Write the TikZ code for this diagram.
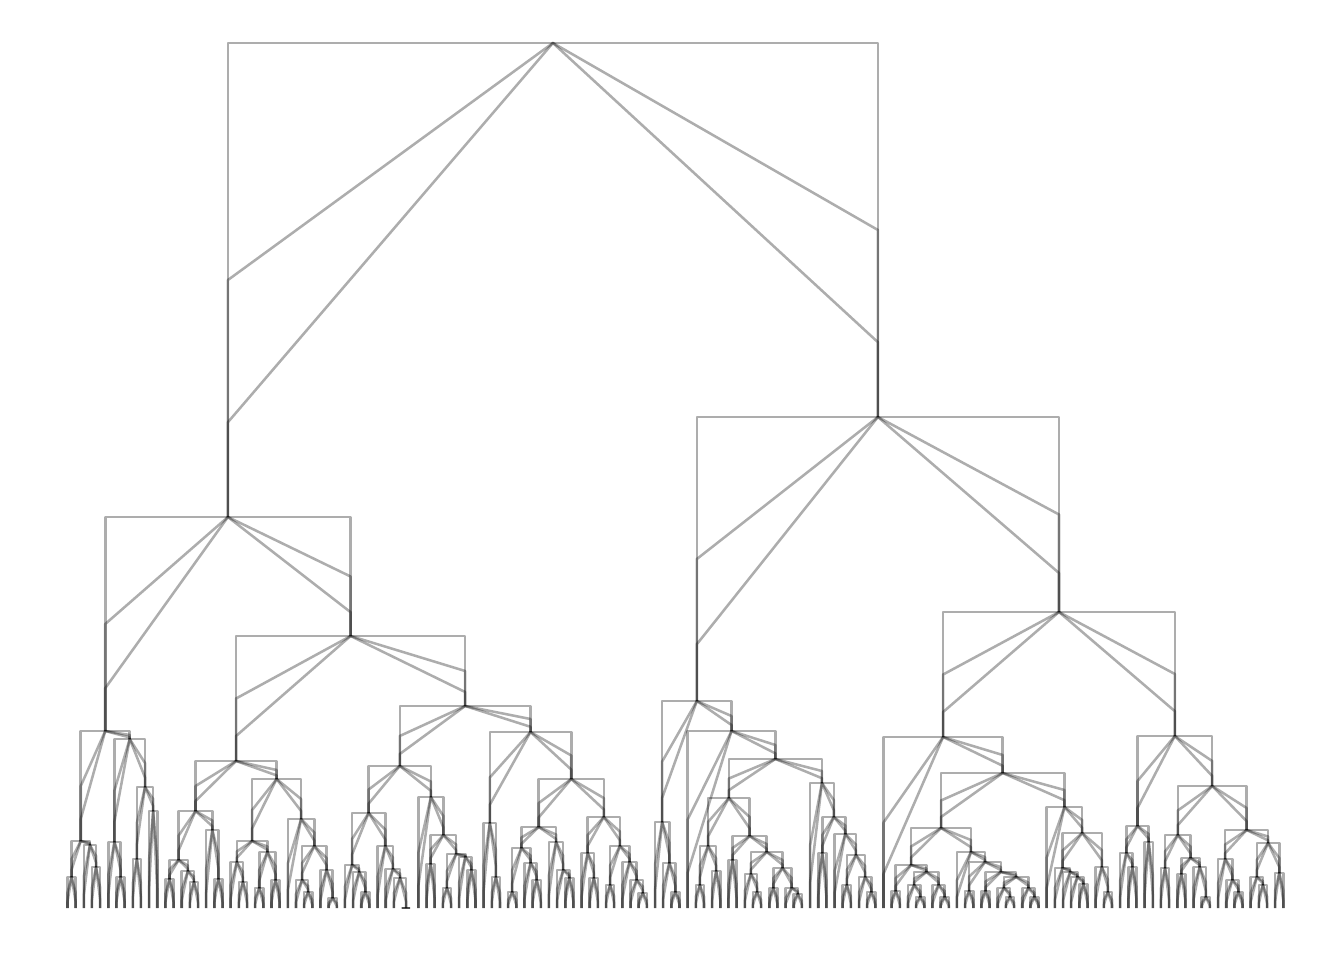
\documentclass[tikz,border=0pt]{standalone}
\usetikzlibrary{calc}
\tikzset{br/.style={draw=black, draw opacity=0.32, line width=1.9pt, line join=round}}
\newcommand\mrg[4]{%
  \path ($(#2)!0.5!(#3)$) coordinate (#1tmp);
  \coordinate (#1) at (#1tmp |- 0,#4);
  \draw[br] (#2) -- (#2 |- #1) -- (#3 |- #1) -- (#3);
  \draw[br] (#2) -- ($(#2)!0.5!(#2 |- #1)$) -- (#1) -- ($(#3)!0.5!(#3 |- #1)$) -- (#3);
  \draw[br] (#2) -- ($(#2)!0.2!(#2 |- #1)$) -- (#1) -- ($(#3)!0.2!(#3 |- #1)$) -- (#3);
}
\begin{document}
\begin{tikzpicture}[x=0.75pt,y=-0.75pt]
\useasboundingbox (0,0) rectangle (1344,960);
\foreach \i in {0,...,149} {\coordinate (l\i) at ({67.5+8.16*\i},908);}
% A1
\mrg{n1}{l0}{l1}{877}
\mrg{n2}{l3}{l4}{867}
\mrg{n3}{l2}{n2}{845}
\mrg{n4}{n1}{n3}{841}
\mrg{n5}{l6}{l7}{877}
\mrg{n6}{l5}{n5}{842}
\mrg{n7}{l8}{l9}{859}
\mrg{n8}{l10}{l11}{811}
\mrg{n9}{n7}{n8}{787}
\mrg{n10}{n6}{n9}{739}
\mrg{Aone}{n4}{n10}{731}
% A2L
\mrg{n11}{l12}{l13}{879}
\mrg{n12}{l15}{l16}{882}
\mrg{n13}{l14}{n12}{871}
\mrg{n14}{n11}{n13}{860}
\mrg{n15}{l18}{l19}{879}
\mrg{n16}{l17}{n15}{830}
\mrg{n17}{n14}{n16}{811}
\mrg{n18}{l21}{l22}{882}
\mrg{n19}{l20}{n18}{862}
\mrg{n20}{l23}{l24}{888}
\mrg{n21}{l25}{l26}{880}
\mrg{n22}{n20}{n21}{852}
\mrg{n23}{n19}{n22}{841}
\mrg{n24}{l29}{l30}{892}
\mrg{n25}{l28}{n24}{880}
\mrg{n26}{l32}{l33}{898}
\mrg{n27}{l31}{n26}{870}
\mrg{n28}{n25}{n27}{846}
\mrg{n29}{l27}{n28}{819}
\mrg{n30}{n23}{n29}{779}
\mrg{AtwoL}{n17}{n30}{761}
% A2RL
\mrg{n31}{l36}{l37}{892}
\mrg{n32}{l35}{n31}{872}
\mrg{n33}{l34}{n32}{865}
\mrg{n34}{l41}{l42}{908}
\mrg{n35}{l40}{n34}{878}
\mrg{n36}{l39}{n35}{869}
\mrg{n37}{l38}{n36}{846}
\mrg{n38}{n33}{n37}{813}
\mrg{n39}{l44}{l45}{864}
\mrg{n40}{l46}{l47}{888}
\mrg{n41}{l49}{l50}{870}
\mrg{n42}{l48}{n41}{857}
\mrg{n43}{n40}{n42}{854}
\mrg{n44}{n39}{n43}{835}
\mrg{n45}{l43}{n44}{797}
\mrg{AtwoRL}{n38}{n45}{766}
% A2RR
\mrg{n46}{l52}{l53}{877}
\mrg{n47}{l51}{n46}{823}
\mrg{n48}{l54}{l55}{892}
\mrg{n49}{l57}{l58}{880}
\mrg{n50}{l56}{n49}{863}
\mrg{n51}{n48}{n50}{848}
\mrg{n52}{l61}{l62}{878}
\mrg{n53}{l60}{n52}{870}
\mrg{n54}{l59}{n53}{842}
\mrg{n55}{n51}{n54}{827}
\mrg{n56}{l64}{l65}{878}
\mrg{n57}{l63}{n56}{853}
\mrg{n58}{l66}{l67}{885}
\mrg{n59}{l70}{l71}{893}
\mrg{n60}{l69}{n59}{880}
\mrg{n61}{l68}{n60}{862}
\mrg{n62}{n58}{n61}{846}
\mrg{n63}{n57}{n62}{817}
\mrg{n64}{n55}{n63}{779}
\mrg{AtwoRR}{n47}{n64}{732}
\mrg{AtwoR}{AtwoRL}{AtwoRR}{706}
\mrg{Atwo}{AtwoL}{AtwoR}{636}
\mrg{A}{Aone}{Atwo}{517}
% B1
\mrg{n65}{l74}{l75}{892}
\mrg{n66}{l73}{n65}{863}
\mrg{n67}{l72}{n66}{822}
\mrg{n68}{l77}{l78}{885}
\mrg{n69}{l79}{l80}{871}
\mrg{n70}{n68}{n69}{846}
\mrg{n71}{l81}{l82}{860}
\mrg{n72}{l84}{l85}{892}
\mrg{n73}{l83}{n72}{874}
\mrg{n74}{l86}{l87}{888}
\mrg{n75}{l89}{l90}{894}
\mrg{n76}{l88}{n75}{888}
\mrg{n77}{n74}{n76}{868}
\mrg{n78}{n73}{n77}{852}
\mrg{n79}{n71}{n78}{836}
\mrg{n80}{n70}{n79}{798}
\mrg{n81}{l98}{l99}{892}
\mrg{n82}{l97}{n81}{877}
\mrg{n83}{l95}{l96}{885}
\mrg{n84}{n83}{n82}{855}
\mrg{n85}{l94}{n84}{834}
\mrg{n86}{l92}{l93}{853}
\mrg{n87}{n86}{n85}{817}
\mrg{n88}{l91}{n87}{783}
\mrg{n89}{n80}{n88}{759}
\mrg{n90}{l76}{n89}{731}
\mrg{Bone}{n67}{n90}{701}
% B2L
\mrg{n91}{l101}{l102}{891}
\mrg{n92}{l104}{l105}{897}
\mrg{n93}{l103}{n92}{885}
\mrg{n94}{l107}{l108}{897}
\mrg{n95}{l106}{n94}{885}
\mrg{n96}{n93}{n95}{872}
\mrg{n97}{n91}{n96}{865}
\mrg{n98}{l110}{l111}{891}
\mrg{n99}{l112}{l113}{891}
\mrg{n100}{l115}{l116}{897}
\mrg{n101}{l114}{n100}{888}
\mrg{n102}{l118}{l119}{897}
\mrg{n103}{l117}{n102}{888}
\mrg{n104}{n101}{n103}{877}
\mrg{n105}{n99}{n104}{872}
\mrg{n106}{n98}{n105}{862}
\mrg{n107}{l109}{n106}{852}
\mrg{n108}{n97}{n107}{828}
\mrg{n109}{l124}{l125}{884}
\mrg{n110}{l123}{n109}{877}
\mrg{n111}{l122}{n110}{872}
\mrg{n112}{l121}{n111}{868}
\mrg{n113}{l127}{l128}{892}
\mrg{n114}{l126}{n113}{867}
\mrg{n115}{n112}{n114}{833}
\mrg{n116}{l120}{n115}{807}
\mrg{n117}{n108}{n116}{773}
\mrg{BtwoL}{l100}{n117}{737}
% B2R
\mrg{n118}{l130}{l131}{867}
\mrg{n119}{l129}{n118}{853}
\mrg{n120}{l132}{l133}{842}
\mrg{n121}{n119}{n120}{826}
\mrg{n122}{l134}{l135}{868}
\mrg{n123}{l136}{l137}{874}
\mrg{n124}{l139}{l140}{897}
\mrg{n125}{l138}{n124}{867}
\mrg{n126}{n123}{n125}{858}
\mrg{n127}{n122}{n126}{835}
\mrg{n128}{l143}{l144}{892}
\mrg{n129}{l142}{n128}{880}
\mrg{n130}{l141}{n129}{859}
\mrg{n131}{l146}{l147}{885}
\mrg{n132}{l145}{n131}{877}
\mrg{n133}{l148}{l149}{873}
\mrg{n134}{n132}{n133}{843}
\mrg{n135}{n130}{n134}{830}
\mrg{n136}{n127}{n135}{786}
\mrg{BtwoR}{n121}{n136}{736}
\mrg{Btwo}{BtwoL}{BtwoR}{612}
\mrg{B}{Bone}{Btwo}{417}
\mrg{root}{A}{B}{43}
\end{tikzpicture}
\end{document}
